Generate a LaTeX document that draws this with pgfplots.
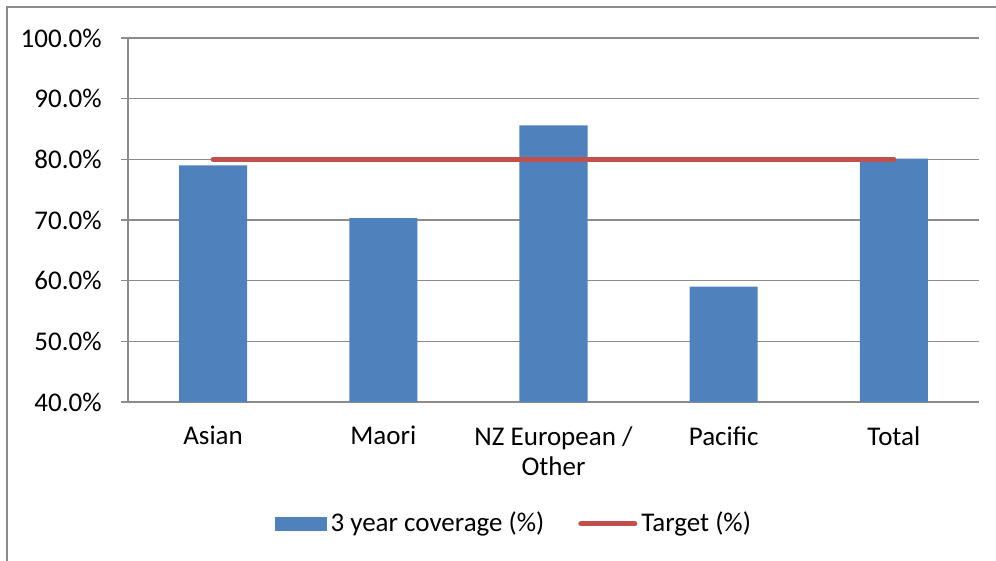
\documentclass[border=0pt]{standalone}
\usepackage{pgfplots}
\pgfplotsset{compat=1.18}
\usepackage{fontspec}
\setmainfont{Carlito}
\definecolor{barblue}{HTML}{4F81BD}
\definecolor{tgtred}{HTML}{C0504D}
\definecolor{gridgray}{HTML}{8C8C8C}
\begin{document}
\fontsize{13.5}{15.6}\selectfont
\begin{tikzpicture}
\useasboundingbox (0,0) rectangle (498pt,280.5pt);
\draw[gridgray, line width=0.75pt] (3.5pt,0pt) -- (3.5pt,277pt) -- (498pt,277pt);
\begin{axis}[
  at={(64pt,79.5pt)}, anchor=south west,
  scale only axis, width=425.5pt, height=182pt,
  xmin=-0.5, xmax=4.5, ymin=40, ymax=100,
  axis x line*=bottom, axis y line*=left,
  axis line style={gridgray, line width=0.75pt, -},
  xtick={0,1,2,3,4},
  xticklabels={Asian, Maori, {NZ European /\\Other}, Pacific, Total},
  xticklabel style={align=center, yshift=-4pt, font=\fontsize{13.5}{15}\selectfont},
  x tick style={draw=none},
  minor xtick={-0.5,0.5,1.5,2.5,3.5,4.5},
  minor x tick style={gridgray, line width=0.75pt},
  minor tick length=3.5pt,
  ytick={40,50,60,70,80,90,100},
  major tick length=3.5pt,
  y tick style={gridgray, line width=0.75pt},
  tick align=outside,
  ymajorgrids,
  grid style={gridgray, line width=0.75pt},
  yticklabel={\pgfmathprintnumber[fixed,fixed zerofill,precision=1]{\tick}\%},
  /pgf/number format/assume math mode=true,
  yticklabel style={xshift=-5pt},
  legend columns=2,
  legend style={draw=none, at={(0.4545,-0.335)}, anchor=center, font=\fontsize{13.5}{15.6}\selectfont,
    /tikz/every even column/.append style={column sep=15pt}},
]
\addplot[ybar, bar width=0.4, fill=barblue, draw=none,
  legend image code/.code={\fill[barblue] (0pt,-3.5pt) rectangle (26pt,3.5pt);}]
  coordinates {(0,79.0) (1,70.3) (2,85.6) (3,59.0) (4,80.1)};
\addlegendentry{3 year coverage (\%)}
\addplot[tgtred, line width=2.5pt, line cap=round, mark=none,
  legend image code/.code={\draw[tgtred, line width=2.5pt, line cap=round] (0pt,0pt) -- (27pt,0pt);}]
  coordinates {(0,80) (4,80)};
\addlegendentry{Target (\%)}
\end{axis}
\end{tikzpicture}
\end{document}
